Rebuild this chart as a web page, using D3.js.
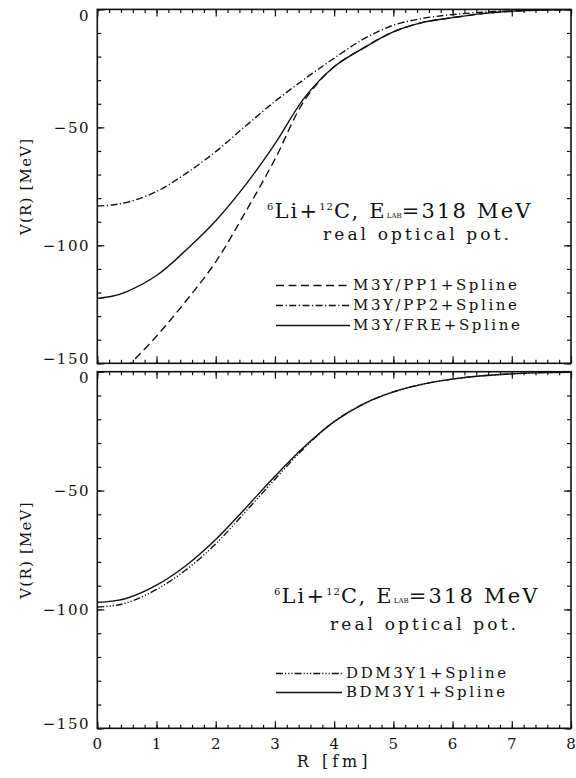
<!DOCTYPE html>
<html><head><meta charset="utf-8">
<script src="https://cdn.jsdelivr.net/npm/d3@7"></script>
<style>
html,body{margin:0;padding:0;background:#fff;}
svg{display:block;font-family:"DejaVu Serif",serif;}
</style></head>
<body>
<svg id="c" width="576" height="778"></svg>
<script>
// ---- data ----
const R = [0,0.25,0.5,1,1.5,2,2.5,3,3.5,4,4.5,5,5.5,6,6.5,7,7.5,8];
const topPP1 = [-162,-157,-151.5,-138.5,-123.5,-107,-86,-63.5,-38.5,-24.3,-16.3,-9.5,-5.5,-3.5,-1.8,-0.8,-0.3,-0.1];
const topPP2 = [-83.3,-82.9,-81.8,-77.2,-69.5,-60.3,-49.5,-39,-29.5,-20.7,-12.5,-6.7,-3.8,-2.2,-1.2,-0.6,-0.3,-0.1];
const topFRE = [-122.5,-121.6,-119.6,-112.8,-102,-89.6,-74.5,-57,-37.4,-24.3,-16.3,-9.5,-5.5,-3.5,-1.8,-0.8,-0.3,-0.1];
const botDDM = [-99,-98.5,-97.2,-91.6,-83.3,-72.4,-59,-45.2,-32,-21,-13.5,-8.5,-5.2,-3.1,-1.7,-0.9,-0.4,-0.2];
const botBDM = [-97,-96.5,-95.3,-89.8,-81.5,-70.6,-57.5,-44,-31.5,-21,-13.5,-8.5,-5.2,-3.1,-1.7,-0.9,-0.4,-0.2];
const xTicks = [0,1,2,3,4,5,6,7,8];
const yTicks = [0,-50,-100,-150];
const topLegend = ["M3Y/PP1+Spline","M3Y/PP2+Spline","M3Y/FRE+Spline"];
const botLegend = ["DDM3Y1+Spline","BDM3Y1+Spline"];

const svg = d3.select("#c");
const X0 = 97.3, X1 = 571;
const x = d3.scaleLinear().domain([0,8]).range([X0,X1]);
const panels = [
  {top:9.4, bot:363.3, series:[{v:topPP1,dash:"8,4.5"},{v:topPP2,dash:"7,2.5,1.2,2.5"},{v:topFRE,dash:null}],
   legend:topLegend, legY:[290,310,330], legX1:276, legX2:350, textX:353, titleY:218, titleX:267, realY:240},
  {top:371.7, bot:728.3, series:[{v:botDDM,dash:"7,2,1.2,2,1.2,2,1.2,2"},{v:botBDM,dash:null}],
   legend:botLegend, legY:[678,697], legX1:276, legX2:342, textX:346, titleY:603, titleX:274, realY:630}
];
const ink = "#111";

panels.forEach((p,i)=>{
  const y = d3.scaleLinear().domain([-150,0]).range([p.bot,p.top]);
  const g = svg.append("g");
  const cid = "clip"+i;
  svg.append("clipPath").attr("id",cid).append("rect")
    .attr("x",X0).attr("y",p.top).attr("width",X1-X0).attr("height",p.bot-p.top);
  // curves
  const line = d3.line().x((d,j)=>x(R[j])).y(d=>y(d)).curve(d3.curveCatmullRom.alpha(0.5));
  p.series.forEach(s=>{
    g.append("path").attr("d",line(s.v)).attr("fill","none").attr("stroke",ink)
     .attr("stroke-width",1.4).attr("stroke-dasharray",s.dash).attr("clip-path",`url(#${cid})`);
  });
  // axes with major+minor ticks
  const xMinor = d3.range(0,8.001,0.2);
  const yMinor = d3.range(-150,0.001,10);
  const ax = (axisFn, scale, vals, size) => axisFn(scale).tickValues(vals).tickSize(size).tickFormat("");
  const drawAxis = (a, tr) => {
    const gg = g.append("g").attr("transform",tr).call(a);
    gg.select(".domain").remove();
    gg.selectAll("line").attr("stroke",ink).attr("stroke-width",1.2);
  };
  drawAxis(ax(d3.axisTop,x,xMinor,3.5),`translate(0,${p.bot})`);
  drawAxis(ax(d3.axisTop,x,xTicks,7),`translate(0,${p.bot})`);
  drawAxis(ax(d3.axisBottom,x,xMinor,3.5),`translate(0,${p.top})`);
  drawAxis(ax(d3.axisBottom,x,xTicks,7),`translate(0,${p.top})`);
  drawAxis(ax(d3.axisRight,y,yMinor,4),`translate(${X0},0)`);
  drawAxis(ax(d3.axisRight,y,yTicks,7),`translate(${X0},0)`);
  drawAxis(ax(d3.axisLeft,y,yMinor,4),`translate(${X1},0)`);
  drawAxis(ax(d3.axisLeft,y,yTicks,7),`translate(${X1},0)`);
  // frame
  g.append("rect").attr("x",X0).attr("y",p.top).attr("width",X1-X0).attr("height",p.bot-p.top)
    .attr("fill","none").attr("stroke",ink).attr("stroke-width",1.6);
  // y tick labels
  yTicks.forEach(t=>{
    const yy = Math.max(p.top+6, Math.min(p.bot-5, y(t)));
    g.append("text").attr("x",90).attr("y",yy).attr("dy","0.36em").attr("text-anchor","end")
     .attr("font-size",15).attr("letter-spacing",1.5).attr("fill",ink)
     .text(t===0?"0":"\u2212"+Math.abs(t));
  });
  // y axis label
  g.append("text").attr("transform",`translate(31,${(p.top+p.bot)/2}) rotate(-90)`).attr("text-anchor","middle")
   .attr("font-size",15).attr("letter-spacing",1.2).attr("fill",ink).text("V(R) [MeV]");
  // title
  const t = g.append("text").attr("x",p.titleX).attr("y",p.titleY).attr("font-size",21).attr("letter-spacing",2.2).attr("fill",ink);
  t.append("tspan").attr("font-size",10).attr("letter-spacing",1).attr("dy",-8).text("6");
  t.append("tspan").attr("dy",8).text("Li+");
  t.append("tspan").attr("font-size",10).attr("letter-spacing",1).attr("dy",-8).text("12");
  t.append("tspan").attr("dy",8).text("C,  E");
  t.append("tspan").attr("font-size",7).attr("letter-spacing",0).text("LAB");
  t.append("tspan").text("=318  MeV");
  g.append("text").attr("x",p.titleX+56).attr("y",p.realY).attr("font-size",17).attr("letter-spacing",3.1).attr("fill",ink)
   .text("real optical pot.");
  // legend
  p.legend.forEach((lab,k)=>{
    const s = p.series[k];
    g.append("line").attr("x1",p.legX1).attr("x2",p.legX2).attr("y1",p.legY[k]-4.5).attr("y2",p.legY[k]-4.5)
     .attr("stroke",ink).attr("stroke-width",1.4).attr("stroke-dasharray",s.dash);
    g.append("text").attr("x",p.textX).attr("y",p.legY[k]).attr("font-size",15).attr("letter-spacing",2.6)
     .attr("fill",ink).text(lab);
  });
});
// x tick labels (bottom panel)
xTicks.forEach(t=>{
  svg.append("text").attr("x",x(t)).attr("y",749).attr("text-anchor","middle").attr("font-size",15)
   .attr("fill",ink).text(t);
});
svg.append("text").attr("x",(X0+X1)/2).attr("y",767).attr("text-anchor","middle").attr("font-size",16)
  .attr("letter-spacing",4).attr("fill",ink).text("R [fm]");
</script>
</body></html>
